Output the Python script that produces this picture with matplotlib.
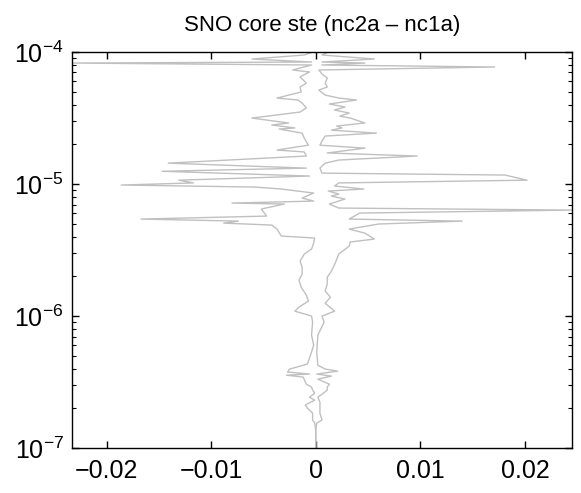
import matplotlib
matplotlib.use("Agg")
import matplotlib.pyplot as plt

plt.rcParams['font.family'] = ['Liberation Sans', 'DejaVu Sans']
plt.rcParams['mathtext.fontset'] = 'custom'
plt.rcParams['mathtext.rm'] = 'Liberation Sans'
plt.rcParams['mathtext.it'] = 'Liberation Sans:italic'

# frequency (log y axis) and difference (x axis)
freq_a = [1.00e-4, 9.49e-5, 8.85e-5, 8.40e-5, 8.25e-5, 7.97e-5, 7.31e-5, 7.06e-5,
          6.47e-5, 5.82e-5, 5.43e-5, 4.98e-5, 4.48e-5, 4.33e-5, 4.11e-5, 3.77e-5,
          3.51e-5, 3.16e-5, 2.90e-5, 2.80e-5, 2.66e-5, 2.61e-5, 2.43e-5, 2.23e-5,
          1.97e-5, 1.81e-5, 1.75e-5, 1.63e-5, 1.44e-5, 1.32e-5, 1.25e-5, 1.15e-5,
          1.07e-5, 1.02e-5, 9.83e-6, 9.49e-6, 9.17e-6, 8.55e-6, 7.83e-6, 7.43e-6,
          7.18e-6, 7.06e-6, 6.47e-6, 5.72e-6, 5.43e-6, 5.24e-6, 5.06e-6, 4.89e-6,
          4.56e-6, 4.04e-6, 3.90e-6, 3.57e-6, 3.22e-6, 2.95e-6, 2.61e-6, 2.35e-6,
          2.08e-6, 1.87e-6, 1.66e-6, 1.44e-6, 1.30e-6, 1.17e-6, 1.09e-6, 1.00e-6,
          9.01e-7, 7.18e-7, 6.03e-7, 5.34e-7, 4.33e-7, 3.97e-7, 3.77e-7, 3.64e-7,
          3.57e-7, 3.45e-7, 3.05e-7, 2.90e-7, 2.75e-7, 2.61e-7, 2.43e-7, 2.31e-7,
          2.12e-7, 2.01e-7, 1.84e-7, 1.72e-7, 1.63e-7, 1.55e-7, 1.37e-7, 1.00e-7]
diff_a = [-0.0003, -0.0011, -0.0061, -0.0004, -0.0233, -0.0004, -0.0022, -0.0006,
          -0.0015, -0.0009, -0.0015, -0.0014, -0.0037, -0.0017, -0.0013, -0.0009,
          -0.0015, -0.0061, -0.0026, -0.0042, -0.0020, -0.0035, -0.0013, -0.0011,
          -0.0007, -0.0037, -0.0011, -0.0009, -0.0141, -0.0009, -0.0147, -0.0006,
          -0.0131, -0.0117, -0.0186, -0.0058, -0.0033, -0.0002, -0.0013, -0.0002,
          -0.0080, -0.0030, -0.0052, -0.0047, -0.0167, -0.0074, -0.0088, -0.0042,
          -0.0037, -0.0033, -0.0001, -0.0002, -0.0004, -0.0011, -0.0015, -0.0013,
          -0.0013, -0.0016, -0.0014, -0.0009, -0.0007, -0.0016, -0.0020, -0.0004,
          -0.0003, -0.0004, -0.0002, -0.0004, -0.0008, -0.0025, -0.0027, -0.0006,
          -0.0028, -0.0012, -0.0009, -0.0004, -0.0003, -0.0001, -0.0006, -0.0001,
          -0.0010, -0.0008, -0.0003, -0.0003, -0.0003, -0.0001, 0.0000, 0.0000]

freq_b = [1.00e-4, 9.49e-5, 8.85e-5, 8.40e-5, 8.25e-5, 7.97e-5, 7.70e-5, 7.31e-5,
          6.81e-5, 6.35e-5, 5.82e-5, 5.43e-5, 5.15e-5, 4.72e-5, 4.48e-5, 4.33e-5,
          4.04e-5, 3.83e-5, 3.64e-5, 3.45e-5, 3.27e-5, 3.16e-5, 2.90e-5, 2.75e-5,
          2.66e-5, 2.56e-5, 2.43e-5, 2.31e-5, 2.12e-5, 1.97e-5, 1.87e-5, 1.72e-5,
          1.63e-5, 1.52e-5, 1.44e-5, 1.32e-5, 1.21e-5, 1.17e-5, 1.07e-5, 1.02e-5,
          9.66e-6, 9.17e-6, 8.85e-6, 8.40e-6, 8.11e-6, 7.70e-6, 7.06e-6, 6.58e-6,
          6.35e-6, 6.03e-6, 5.43e-6, 5.24e-6, 4.98e-6, 4.56e-6, 4.25e-6, 3.83e-6,
          3.64e-6, 3.39e-6, 2.95e-6, 2.56e-6, 2.19e-6, 1.97e-6, 1.75e-6, 1.55e-6,
          1.39e-6, 1.25e-6, 1.09e-6, 1.00e-6, 9.01e-7, 7.18e-7, 5.34e-7, 4.25e-7,
          3.97e-7, 3.83e-7, 3.64e-7, 3.51e-7, 3.33e-7, 3.05e-7, 2.90e-7, 2.75e-7,
          2.56e-7, 2.43e-7, 2.23e-7, 2.04e-7, 1.84e-7, 1.63e-7, 1.55e-7, 1.37e-7,
          1.00e-7]
diff_b = [0.0012, 0.0006, 0.0056, 0.0006, 0.0047, 0.0006, 0.0171, 0.0003,
          0.0006, 0.0011, 0.0009, 0.0011, 0.0003, 0.0009, 0.0022, 0.0039,
          0.0013, 0.0028, 0.0018, 0.0032, 0.0023, 0.0033, 0.0047, 0.0020,
          0.0025, 0.0015, 0.0058, 0.0009, 0.0006, 0.0004, 0.0047, 0.0011,
          0.0097, 0.0022, 0.0009, 0.0004, 0.0006, 0.0181, 0.0202, 0.0022,
          0.0018, 0.0046, 0.0012, 0.0022, 0.0015, 0.0028, 0.0013, 0.0022,
          0.0245, 0.0042, 0.0032, 0.0140, 0.0060, 0.0032, 0.0047, 0.0056,
          0.0033, 0.0032, 0.0022, 0.0019, 0.0015, 0.0011, 0.0011, 0.0009,
          0.0014, 0.0009, 0.0018, 0.0006, 0.0008, 0.0002, 0.0001, 0.0002,
          0.0009, 0.0021, 0.0001, 0.0015, 0.0002, 0.0013, 0.0011, 0.0011,
          0.0006, 0.0002, 0.0004, 0.0004, 0.0004, 0.0006, 0.0001, 0.0000,
          0.0000]

xticks = [-0.02, -0.01, 0, 0.01, 0.02]
xtick_labels = ['\u22120.02', '\u22120.01', '0', '0.01', '0.02']

fig = plt.figure(figsize=(5.81, 4.93), dpi=100)
ax = fig.add_axes([0.124, 0.091, 0.8605, 0.8035])

ax.plot(diff_a, freq_a, color='#c0c0c0', lw=1.0)
ax.plot(diff_b, freq_b, color='#c0c0c0', lw=1.0)

ax.set_yscale('log')
ax.set_ylim(1e-7, 1e-4)
ax.set_xlim(-0.0233, 0.0245)
ax.set_xticks(xticks)
ax.set_xticklabels(xtick_labels)
ax.set_title('SNO core ste (nc2a \u2013 nc1a)', fontsize=16, pad=15)

ax.tick_params(which='both', direction='in', top=True, right=True, labelsize=18)
ax.tick_params(which='major', length=5, width=1)
ax.tick_params(which='minor', length=3, width=0.8)
ax.tick_params(axis='x', which='major', pad=8)
ax.tick_params(axis='y', which='major', pad=6)
for s in ax.spines.values():
    s.set_linewidth(1.0)

fig.savefig('out.png', dpi=100)
